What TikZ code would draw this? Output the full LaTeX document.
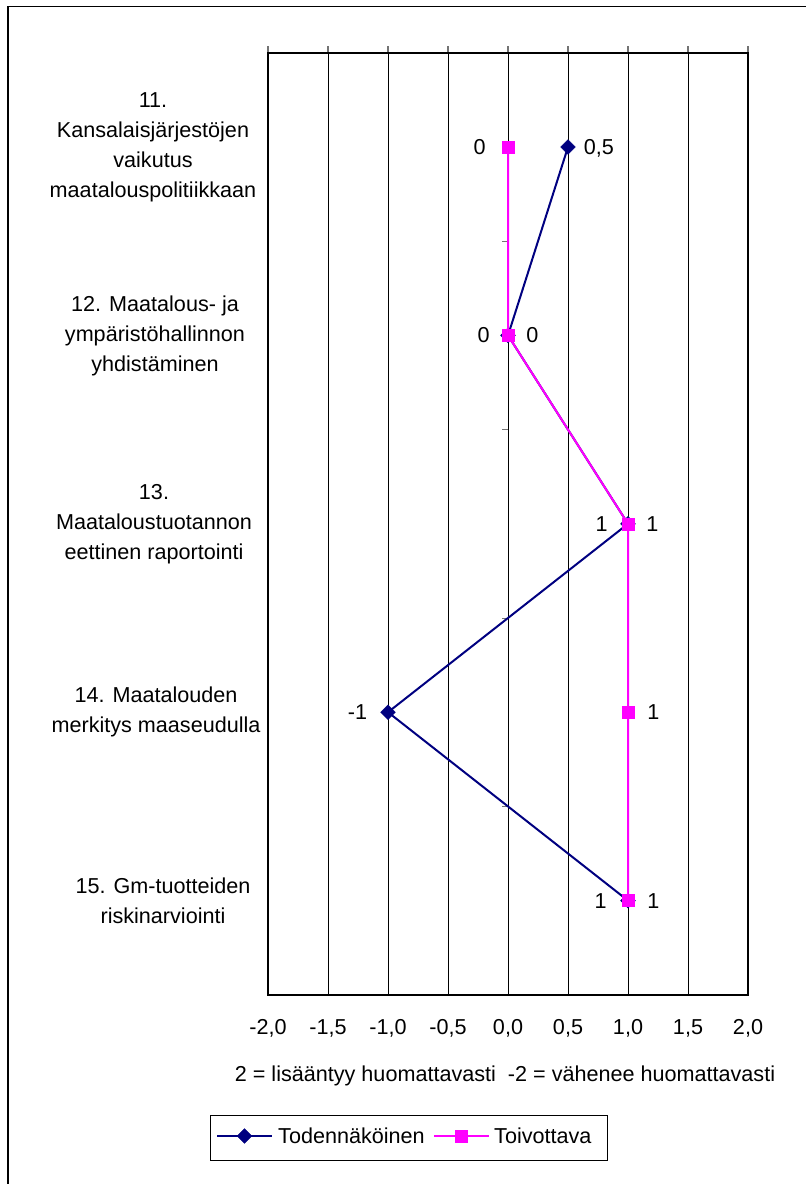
\documentclass[tikz,border=0pt]{standalone}
\usepackage{fontspec}
\setmainfont{Liberation Sans}
\usetikzlibrary{positioning, shapes.geometric}
\definecolor{NavyLine}{HTML}{000080}
\definecolor{MagentaLine}{HTML}{FF00FF}
\colorlet{TickGray}{black!55}

\begin{document}
\begin{tikzpicture}[
    x=1pt, y=-1pt,
    catlabel/.style={
        font=\fontsize{21.6}{30}\selectfont, align=center, inner sep=0pt
    },
    vallabel/.style={
        font=\fontsize{21.6}{26}\selectfont, inner sep=0pt,
        text depth=0pt
    },
    gridline/.style={black, line width=1pt},
    tickmark/.style={TickGray, line width=1.2pt},
    plotframe/.style={black, line width=2.4pt},
    likelyline/.style={NavyLine, line width=2pt},
    wishedline/.style={MagentaLine, line width=2pt},
    likely/.style={
        diamond, fill=NavyLine, draw=NavyLine, minimum size=15pt,
        inner sep=0pt
    },
    wished/.style={
        rectangle, fill=MagentaLine, draw=MagentaLine, minimum size=12pt,
        inner sep=0pt
    }
]
\useasboundingbox (0,0) rectangle (806,1184);

% Outer frame (only top and left edges show)
\draw[line width=1.4pt] (806,6.5) -- (8,6.5) -- (8,1184);

% Grid, value ticks and tick labels
\foreach \v/\t in {-2/{-2,0}, -1.5/{-1,5}, -1/{-1,0}, -0.5/{-0,5},
                   0/{0,0}, 0.5/{0,5}, 1/{1,0}, 1.5/{1,5}, 2/{2,0}} {
    \draw[gridline] ({508+120*\v},53) -- ({508+120*\v},995);
    \draw[tickmark] ({508+120*\v},46) -- ({508+120*\v},53);
    \node[vallabel] at ({508+120*\v},1027) {\t};
}

% Category ticks on the zero line
\foreach \k in {1,...,4}
    \draw[tickmark] (502,{53+188.4*\k}) -- (508,{53+188.4*\k});

\draw[plotframe] (268,53) rectangle (748,995);

% Category labels
\node[catlabel] (c11) at (153,147)
    {11.\\Kansalaisjärjestöjen\\vaikutus\\maatalouspolitiikkaan};
\node[catlabel] (c12) at (155,336)
    {12. Maatalous- ja\\ympäristöhallinnon\\yhdistäminen};
\node[catlabel] (c13) at (154,524)
    {13.\\Maataloustuotannon\\eettinen raportointi};
\node[catlabel] (c14) at (156,712)
    {14. Maatalouden\\merkitys maaseudulla};
\node[catlabel] (c15) at (163,901)
    {15. Gm-tuotteiden\\riskinarviointi};

% Data points
\foreach \i/\a/\b in {11/0.5/0, 12/0/0, 13/1/1, 14/-1/1, 15/1/1} {
    \coordinate (t\i) at ({508+120*\a},{147+188.4*(\i-11)});
    \coordinate (w\i) at ({508+120*\b},{147+188.4*(\i-11)});
}

% Todennakoinen series
\draw[likelyline] (t11) -- (t12) -- (t13) -- (t14) -- (t15);
\foreach \i in {11,...,15}
    \node[likely] (mt\i) at (t\i) {};

% Toivottava series
\draw[wishedline] (w11) -- (w12) -- (w13) -- (w14) -- (w15);
\foreach \i in {11,...,15}
    \node[wished] (mw\i) at (w\i) {};

% Data labels
\node[vallabel, right=8pt of mt11]   (lt11) {0,5};
\node[vallabel, left=16pt of mw11]   (lw11) {0};
\node[vallabel, left=12pt of mw12]   (lw12) {0};
\node[vallabel, right=12pt of mw12]  (lt12) {0};
\node[vallabel, left=14pt of mw13]   (lt13) {1};
\node[vallabel, right=12pt of mw13]  (lw13) {1};
\node[vallabel, left=13pt of mt14]   (lt14) {-1};
\node[vallabel, right=13pt of mw14]  (lw14) {1};
\node[vallabel, left=15pt of mw15]   (lt15) {1};
\node[vallabel, right=13pt of mw15]  (lw15) {1};

% Scale explanation
\node[vallabel] (scale) at (505,1074)
    {2 = lisääntyy huomattavasti\ \ -2 = vähenee huomattavasti};

% Legend
\draw[line width=1pt] (210,1115.5) rectangle (607,1160);
\coordinate (ka) at (217,1136);
\coordinate (kb) at (272,1136);
\draw[likelyline] (ka) -- (kb);
\node[likely] (kmt) at (244.5,1136) {};
\node[vallabel, anchor=west] (ktxt) at (278,1136) {Todennäköinen};
\coordinate (kc) at (434,1136);
\coordinate (kd) at (489,1136);
\draw[wishedline] (kc) -- (kd);
\node[wished] (kmw) at (461.5,1136) {};
\node[vallabel, anchor=west] (kwtxt) at (494,1136) {Toivottava};

\end{tikzpicture}
\end{document}
